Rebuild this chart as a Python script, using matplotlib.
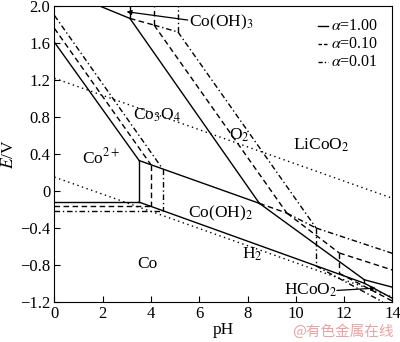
import matplotlib
matplotlib.use('Agg')
import matplotlib.pyplot as plt

plt.rcParams['font.family'] = ['Liberation Serif', 'DejaVu Serif']
plt.rcParams['mathtext.fontset'] = 'stix'
plt.rcParams['font.size'] = 12.5

# boundaries, each one (pH list, E list), grouped by activity
lines_100 = [
    ([0, 3.51], [1.61, 0.33]),          # Co2+ / Co3O4
    ([3.51, 3.51], [0.33, -0.12]),      # Co2+ / Co(OH)2
    ([0, 3.51], [-0.12, -0.12]),        # Co2+ / Co
    ([3.51, 8.49], [0.33, -0.133]),     # Co3O4 / Co(OH)2
    ([3.51, 12.84], [-0.12, -0.997]),   # Co(OH)2 / Co
    ([1.89, 3.13], [2.0, 1.867]),       # Co3O4 / Co(OH)3
    ([3.13, 3.13], [1.867, 2.0]),       # Co(OH)3 / LiCoO2
    ([3.13, 8.49], [1.867, -0.133]),    # Co3O4 / LiCoO2
    ([8.49, 12.84], [-0.133, -0.96]),   # LiCoO2 / Co(OH)2
    ([12.84, 12.84], [-0.96, -0.997]),  # Co(OH)2 / HCoO2-
    ([12.84, 14], [-0.96, -1.04]),      # LiCoO2 / HCoO2-
    ([12.84, 14], [-0.997, -1.16]),     # HCoO2- / Co
]
lines_010 = [
    ([0, 4.0], [1.76, 0.284]),
    ([4.0, 4.0], [0.284, -0.166]),
    ([0, 4.0], [-0.166, -0.166]),
    ([3.13, 4.13], [1.867, 1.795]),
    ([4.13, 4.13], [1.795, 2.0]),
    ([4.13, 9.63], [1.795, -0.239]),
    ([8.49, 9.63], [-0.133, -0.239]),
    ([9.63, 11.8], [-0.239, -0.67]),
    ([11.8, 11.8], [-0.67, -0.89]),
    ([11.8, 14], [-0.67, -0.854]),
    ([11.8, 14], [-0.89, -1.19]),
]
lines_001 = [
    ([0, 4.48], [1.90, 0.24]),
    ([4.48, 4.48], [0.24, -0.211]),
    ([0, 4.48], [-0.211, -0.211]),
    ([4.13, 5.12], [1.795, 1.72]),
    ([5.12, 5.12], [1.72, 2.0]),
    ([5.12, 10.84], [1.72, -0.40]),
    ([9.63, 10.84], [-0.239, -0.40]),
    ([10.84, 10.84], [-0.40, -0.81]),
    ([10.84, 14], [-0.40, -0.674]),
    ([10.84, 13.6], [-0.81, -1.2]),
]
# water stability lines
o2_ph, o2_e = [0, 14], [1.22, -0.078]
h2_ph, h2_e = [0, 14], [0.151, -1.147]

legend_labels = [r'$\alpha$=1.00', r'$\alpha$=0.10', r'$\alpha$=0.01']
phase_labels = [
    (r'Co(OH)$_3$', 6.9, 1.82),
    (r'Co$_3$O$_4$', 4.25, 0.82),
    (r'Co$^{2+}$', 1.93, 0.36),
    (r'O$_2$', 7.68, 0.60),
    (r'LiCoO$_2$', 11.06, 0.50),
    (r'Co(OH)$_2$', 6.9, -0.24),
    (r'H$_2$', 8.2, -0.68),
    (r'Co', 3.87, -0.79),
]

fig = plt.figure(figsize=(4.0, 3.42), dpi=100)
ax = fig.add_axes([0.136, 0.117, 0.845, 0.865])

lw = 1.0
for x, y in lines_100:
    ax.plot(x, y, color='black', lw=lw, ls='-')
for x, y in lines_010:
    ax.plot(x, y, color='black', lw=lw, ls=(0, (4, 2.5)))
for x, y in lines_001:
    ax.plot(x, y, color='black', lw=lw, ls=(0, (4, 2, 1, 2)))
ax.plot(o2_ph, o2_e, color='black', lw=lw, ls=(0, (1, 2.5)))
ax.plot(h2_ph, h2_e, color='black', lw=lw, ls=(0, (1, 2.5)))

for txt, x, y in phase_labels:
    ax.text(x, y, txt, ha='center', va='center')

# HCoO2- and Co(OH)3 labels point into their small regions
ax.text(10.6, -1.07, r'HCoO$_2$', ha='center', va='center')
ax.annotate('', xy=(13.32, -1.05), xytext=(11.7, -1.075),
            arrowprops=dict(arrowstyle='-|>', color='black', lw=0.9,
                            shrinkA=0, shrinkB=0, mutation_scale=7))
ax.annotate('', xy=(2.99, 1.94), xytext=(5.52, 1.85),
            arrowprops=dict(arrowstyle='-|>', color='black', lw=0.9,
                            shrinkA=0, shrinkB=0, mutation_scale=7))

# legend drawn by hand in the top right corner
styles = ['-', (0, (2.5, 1.5)), (0, (3, 1.5, 1, 1.5))]
for i, (lab, st) in enumerate(zip(legend_labels, styles)):
    yy = 1.78 - i * 0.19
    ax.plot([10.9, 11.35], [yy, yy], color='black', lw=lw, ls=st)
    ax.text(11.45, yy, lab, ha='left', va='center', fontsize=11.5)

ax.set_xlim(0, 14)
ax.set_ylim(-1.2, 2.0)
ax.set_xticks(range(0, 15, 2))
ax.set_yticks([2.0, 1.6, 1.2, 0.8, 0.4, 0, -0.4, -0.8, -1.2])
ax.set_yticklabels(['2.0', '1.6', '1.2', '0.8', '0.4', '0',
                    '\u22120.4', '\u22120.8', '\u22121.2'])
ax.tick_params(direction='in', length=4, width=0.8, labelsize=12, pad=3)
for s in ax.spines.values():
    s.set_linewidth(0.8)
ax.set_xlabel('pH', labelpad=0)
ax.set_ylabel(r'$E$/V', labelpad=2)

fig.text(0.985, 0.01, '@有色金属在线', ha='right', va='bottom', fontsize=10.5,
         color='#e9a3a3', family=['Noto Sans CJK SC', 'DejaVu Sans'])

fig.savefig('out.png', dpi=100)
